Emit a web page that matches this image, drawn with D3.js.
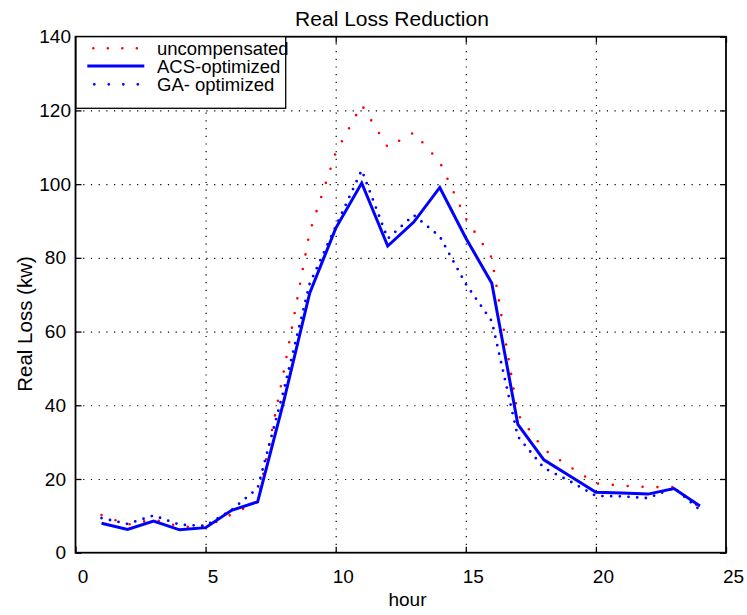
<!DOCTYPE html>
<html>
<head>
<meta charset="utf-8">
<script src="https://cdn.jsdelivr.net/npm/d3@7"></script>
<style>
  html, body { margin: 0; padding: 0; background: #fff; }
  svg { display: block; font-family: "Liberation Sans", Arial, Helvetica, sans-serif; }
</style>
</head>
<body>
<svg id="chart" width="747" height="615"></svg>
<script>
// ---- data ----
const hours = [1,2,3,4,5,6,7,8,9,10,11,12,13,14,15,16,17,18,19,20,21,22,23,24];
const uncompensated = [10.2,7.6,9.0,7.1,6.9,10.4,13.8,49,87,108.5,121.5,110,114,106,90.7,80,37.5,28,23.3,18.8,18.2,17.8,17.8,12.2];
const acsOptimized  = [8.0,6.3,8.6,6.2,6.8,11.5,13.8,41,70.4,88,100.3,83.2,89.7,99.1,85.4,73.1,34.8,25.2,20.8,16.4,16.2,15.9,17.4,12.7];
const gaOptimized   = [9.4,7.8,10.1,7.6,7.3,11.6,17.5,44,73,88.5,103.8,85.2,91.6,85.8,72.9,62.8,31.5,23,19.4,15.4,15.3,14.8,17.6,11.6];
const xTicks = [0,5,10,15,20,25];
const yTicks = [0,20,40,60,80,100,120,140];
const seriesNames = ["uncompensated","ACS-optimized","GA- optimized"];
const titleText = "Real Loss Reduction";
const xLabelText = "hour";
const yLabelText = "Real Loss (kw)";

// ---- layout ----
const L = 75.5, R = 726, T = 36.7, B = 552.7;
const svg = d3.select("#chart");
const x = d3.scaleLinear().domain([0,25]).range([L,R]);
const y = d3.scaleLinear().domain([0,140]).range([B,T]);

// grid
const gx = svg.append("g").attr("transform",`translate(0,${B})`)
  .call(d3.axisBottom(x).tickValues(xTicks.slice(1,-1)).tickSize(-(B-T)).tickFormat(""));
const gy = svg.append("g").attr("transform",`translate(${L},0)`)
  .call(d3.axisLeft(y).tickValues(yTicks.slice(1,-1)).tickSize(-(R-L)).tickFormat(""));
[gx,gy].forEach(g => {
  g.select(".domain").remove();
  g.selectAll(".tick line").attr("stroke","#000").attr("stroke-width",1.2)
    .attr("stroke-dasharray","1.2,6.5");
});

// lines
const mk = vals => d3.line().x((d,i)=>x(hours[i])).y(d=>y(d))(vals);
svg.append("path").attr("d",mk(uncompensated)).attr("fill","none")
  .attr("stroke","#ff0000").attr("stroke-width",2.6).attr("stroke-linecap","round")
  .attr("stroke-dasharray","0,14.9");
svg.append("path").attr("d",mk(acsOptimized)).attr("fill","none")
  .attr("stroke","#0000ff").attr("stroke-width",3).attr("stroke-linejoin","miter");
svg.append("path").attr("d",mk(gaOptimized)).attr("fill","none")
  .attr("stroke","#0000ff").attr("stroke-width",2.8).attr("stroke-linecap","round")
  .attr("stroke-dasharray","0,8.7");

// axes with inward ticks
const ax = svg.append("g").attr("transform",`translate(0,${B})`)
  .call(d3.axisBottom(x).tickValues(xTicks).tickSize(-6).tickPadding(12).tickFormat(d3.format("d")));
ax.selectAll("text").attr("dx",7).attr("dy","0.95em");
const axT = svg.append("g").attr("transform",`translate(0,${T})`)
  .call(d3.axisTop(x).tickValues(xTicks).tickSize(-6).tickFormat(""));
const ay = svg.append("g").attr("transform",`translate(${L},0)`)
  .call(d3.axisLeft(y).tickValues(yTicks).tickSize(-6).tickPadding(10).tickFormat(d3.format("d")));
ay.selectAll("text").attr("x", d => String(d).length >= 3 ? -4.5 : -9.5);
const ayR = svg.append("g").attr("transform",`translate(${R},0)`)
  .call(d3.axisRight(y).tickValues(yTicks).tickSize(-6).tickFormat(""));
[ax,axT,ay,ayR].forEach(g => {
  g.select(".domain").remove();
  g.selectAll(".tick line").attr("stroke","#000").attr("stroke-width",1.3);
  g.selectAll("text").attr("font-size",19).attr("fill","#000")
    .attr("font-family","Liberation Sans, Arial, sans-serif");
});

// frame
svg.append("rect").attr("x",L).attr("y",T).attr("width",R-L).attr("height",B-T)
  .attr("fill","none").attr("stroke","#000").attr("stroke-width",1.8);

// title & labels
svg.append("text").attr("x",392).attr("y",26).attr("text-anchor","middle")
  .attr("font-size",21).text(titleText);
svg.append("text").attr("x",407.5).attr("y",606).attr("text-anchor","middle")
  .attr("font-size",19).text(xLabelText);
svg.append("text").attr("transform","translate(32,324) rotate(-90)")
  .attr("text-anchor","middle").attr("font-size",20.5).text(yLabelText);

// legend
const lg = svg.append("g");
lg.append("rect").attr("x",L+0.5).attr("y",T).attr("width",285.7-L-0.5).attr("height",108.3-T)
  .attr("fill","#fff").attr("stroke","#000").attr("stroke-width",1.3);
const rows = [
  {name:seriesNames[0], cy:48.3, color:"#ff0000", w:2.6, dash:"0,14.5", cap:"round", x1:93.3, x2:137},
  {name:seriesNames[1], cy:66,   color:"#0000ff", w:3,   dash:null,     cap:"butt",  x1:87.3, x2:144.3},
  {name:seriesNames[2], cy:84.3, color:"#0000ff", w:2.8, dash:"0,14.5", cap:"round", x1:94.3, x2:138}
];
rows.forEach(r => {
  const ln = lg.append("line").attr("x1",r.x1).attr("x2",r.x2).attr("y1",r.cy).attr("y2",r.cy)
    .attr("stroke",r.color).attr("stroke-width",r.w).attr("stroke-linecap",r.cap);
  if (r.dash) ln.attr("stroke-dasharray",r.dash);
  lg.append("text").attr("x",157).attr("y",r.cy+6.5).attr("font-size",18.5).text(r.name);
});
</script>
</body>
</html>
